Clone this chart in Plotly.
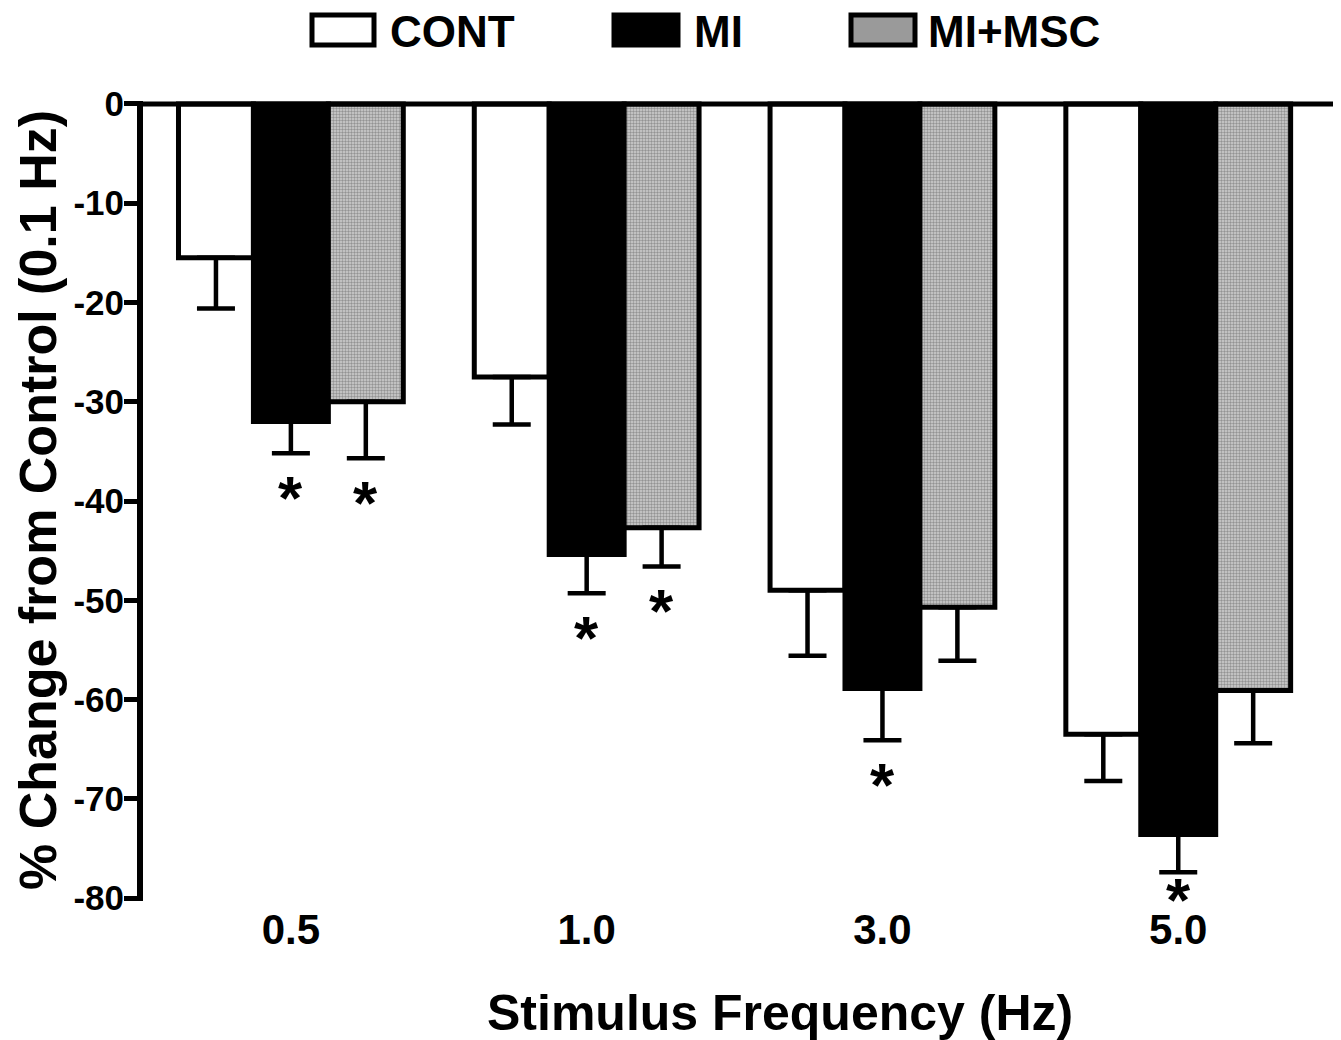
import plotly.graph_objects as go

categories = ["0.5", "1.0", "3.0", "5.0"]
cont = [-15.5, -27.5, -49.0, -63.5]
cont_err = [5.1, 4.8, 6.6, 4.7]
mi = [-32.0, -45.4, -58.9, -73.6]
mi_err = [3.2, 3.9, 5.2, 3.8]
msc = [-30.0, -42.7, -50.7, -59.1]
msc_err = [5.7, 3.9, 5.4, 5.3]
# significance markers: (category index, series index)
sig = [(0, 1), (0, 2), (1, 1), (1, 2), (2, 1), (3, 1)]
ytick_vals = [0, -10, -20, -30, -40, -50, -60, -70, -80]

FONT = "Liberation Sans"
xpos = list(range(len(categories)))
bargap = 0.24
bw = (1 - bargap) / 3

# page body adds an 8px margin; work in shifted pixel coordinates
OFF = 8
W, H = 1341 - OFF, 1040 - OFF
pl, pr, pt, pb = 143 - OFF, 1335 - OFF, 101 - OFF, 901 - OFF


def px(x):
    return (x - OFF - pl) / (pr - pl)


def py(y):
    return (pb - (y - OFF)) / (pb - pt)


fig = go.Figure()
series = [
    ("CONT", cont, cont_err, dict(color="white")),
    ("MI", mi, mi_err, dict(color="black")),
    ("MI+MSC", msc, msc_err, dict(color="#9a9a9a",
                                   pattern=dict(shape=".", fgcolor="#555555", bgcolor="#d0d0d0",
                                                size=3, solidity=0.5))),
]
for name, vals, errs, mk in series:
    fig.add_trace(go.Bar(
        x=xpos, y=vals, name=name, showlegend=False,
        marker=dict(line=dict(color="black", width=5), **mk),
        error_y=dict(type="data", symmetric=False, array=[0] * len(vals), arrayminus=errs,
                     color="black", thickness=4.5, width=19),
    ))

data = [cont, mi, msc]
errs = [cont_err, mi_err, msc_err]
for ci, si in sig:
    xo = ci + (si - 1) * bw
    yv = data[si][ci] - errs[si][ci]
    shift = -44 if ci < 3 else -27
    fig.add_annotation(x=xo, y=yv, xref="x", yref="y", text="<b>*</b>", showarrow=False,
                       yanchor="middle", yshift=shift,
                       font=dict(family=FONT, size=62, color="black"))

# zero baseline
fig.add_shape(type="line", xref="paper", yref="y", x0=0, x1=1, y0=0, y1=0,
              line=dict(color="black", width=5))

# legend (custom)
leg = [
    (310, 376, "white", "CONT", 388),
    (612, 680, "black", "MI", 692),
    (849, 917, "#9a9a9a", "MI+MSC", 926),
]
for x0, x1, col, txt, tx in leg:
    fig.add_shape(type="rect", xref="paper", yref="paper",
                  x0=px(x0 + 2), x1=px(x1 - 2), y0=py(45), y1=py(15),
                  fillcolor=col, line=dict(color="black", width=5), layer="above")
    fig.add_annotation(x=px(tx), y=py(31), xref="paper", yref="paper", text="<b>" + txt + "</b>",
                       showarrow=False, xanchor="left", yanchor="middle",
                       font=dict(family=FONT, size=44, color="black"))

# axis titles
fig.add_annotation(x=px(780), y=py(1013), xref="paper", yref="paper",
                   text="<b>Stimulus Frequency (Hz)</b>", showarrow=False,
                   xanchor="center", yanchor="middle", font=dict(family=FONT, size=50, color="black"))
fig.add_annotation(x=px(38), y=py(500), xref="paper", yref="paper",
                   text="<b>% Change from Control (0.1 Hz)</b>", showarrow=False, textangle=-90,
                   xanchor="center", yanchor="middle", borderpad=0,
                   font=dict(family=FONT, size=52, color="black"))

fig.update_layout(
    width=W, height=H,
    margin=dict(l=pl, r=W - pr, t=pt, b=H - pb, autoexpand=False),
    plot_bgcolor="white", paper_bgcolor="white",
    barmode="group", bargap=bargap, bargroupgap=0,
    xaxis=dict(range=[-0.5, 3.53], tickvals=xpos, ticktext=["<b>%s</b>" % c for c in categories],
               showline=False, ticks="", showgrid=False, zeroline=False,
               tickfont=dict(family=FONT, size=42, color="black"), ticklabelstandoff=0),
    yaxis=dict(range=[-80.3, 0.3], tickvals=ytick_vals,
               ticktext=["<b>%s</b>" % ("0" if v == 0 else "-%d" % -v) for v in ytick_vals],
               showline=True, linecolor="black", linewidth=6, ticks="outside", ticklen=13,
               tickwidth=5, tickcolor="black", showgrid=False, zeroline=False,
               tickfont=dict(family=FONT, size=35, color="black"), ticklabelstandoff=-7),
)

fig.write_html("out.html")
